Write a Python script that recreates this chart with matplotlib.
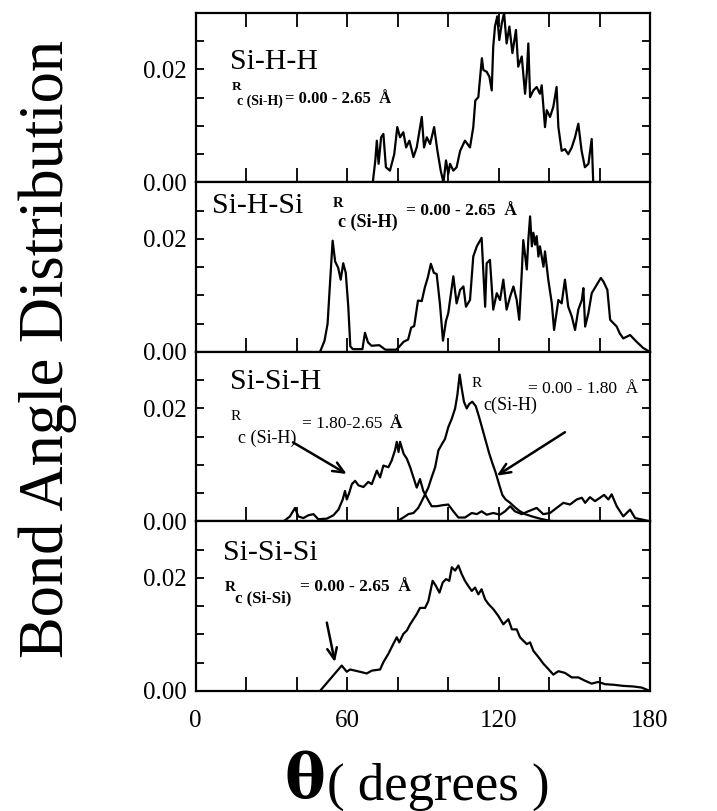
import matplotlib
matplotlib.use("Agg")
import matplotlib.pyplot as plt

plt.rcParams['font.family'] = ['Liberation Serif', 'DejaVu Serif']

# Si-H-H, Rc(Si-H) = 0.00 - 2.65 A
shh_x = [70.2, 71.2, 71.8, 72.5, 73.5, 74.4, 75.4, 77.0, 78.7, 79.9, 81.0, 82.3, 83.4, 84.7,
         86.3, 87.6, 89.6, 90.5, 91.6, 92.9, 94.5, 95.8, 97.1, 98.2, 99.2, 100.1, 100.8, 102.1,
         103.4, 104.8, 106.7, 108.7, 110.0, 110.8, 112.0, 113.4, 114.0, 115.3, 116.4, 117.3,
         117.9, 118.6, 119.5, 120.3, 121.3, 122.2, 123.2, 124.3, 125.5, 126.9, 127.8, 129.2,
         130.5, 131.2, 131.8, 132.5, 133.8, 135.1, 136.4, 137.1, 138.4, 139.1, 140.4, 141.7,
         143.0, 143.7, 145.0, 146.3, 147.6, 149.0, 150.3, 151.6, 152.9, 154.2, 155.6, 156.9, 157.5]
shh_y = [0.0, 0.0039, 0.0074, 0.0033, 0.0080, 0.0086, 0.0027, 0.0021, 0.0050, 0.0098, 0.0080,
         0.0089, 0.0062, 0.0074, 0.0045, 0.0062, 0.0116, 0.0062, 0.0080, 0.0068, 0.0098, 0.0056,
         0.0021, 0.0, 0.0039, 0.0015, 0.0033, 0.0021, 0.0027, 0.0056, 0.0074, 0.0062, 0.0098,
         0.0145, 0.0151, 0.0220, 0.0199, 0.0196, 0.0187, 0.0163, 0.0240, 0.0276, 0.0294, 0.0252,
         0.0282, 0.0300, 0.0246, 0.0276, 0.0229, 0.0270, 0.0205, 0.0223, 0.0157, 0.0193, 0.0246,
         0.0151, 0.0163, 0.0169, 0.0157, 0.0172, 0.0098, 0.0128, 0.0116, 0.0134, 0.0169, 0.0098,
         0.0056, 0.0059, 0.0050, 0.0062, 0.0080, 0.0104, 0.0056, 0.0027, 0.0033, 0.0077, 0.0]

# Si-H-Si, Rc(Si-H) = 0.00 - 2.65 A
shs_x = [49.3, 51.1, 52.3, 53.1, 54.3, 55.3, 56.5, 57.5, 58.5, 59.5, 60.5, 61.3, 62.3, 66.1,
         67.1, 68.3, 69.7, 72.8, 75.2, 79.4, 80.6, 82.4, 84.2, 85.4, 86.6, 88.1, 89.6, 90.8,
         92.0, 93.2, 94.4, 95.5, 96.8, 98.0, 99.2, 100.1, 102.1, 103.4, 104.8, 106.1, 107.1,
         108.7, 110.0, 111.4, 113.3, 114.7, 115.3, 116.6, 117.9, 119.3, 120.6, 121.9, 123.2,
         124.6, 125.9, 127.2, 128.2, 129.2, 129.8, 131.2, 131.8, 132.5, 133.2, 133.8, 134.5,
         135.1, 135.8, 136.4, 137.8, 138.4, 139.7, 141.1, 142.0, 143.7, 145.0, 146.3, 147.6,
         149.0, 150.3, 151.6, 153.0, 153.6, 154.3, 155.6, 156.9, 158.9, 160.5, 161.5, 163.1,
         164.2, 165.5, 166.8, 168.0, 169.4, 172.1, 174.7, 177.3, 180.0]
shs_y = [0.0, 0.0020, 0.0050, 0.0110, 0.0197, 0.0160, 0.0149, 0.0128, 0.0157, 0.0140, 0.0080,
         0.0010, 0.0005, 0.0005, 0.0034, 0.0017, 0.0011, 0.0012, 0.0004, 0.0004, 0.0009, 0.0018,
         0.0022, 0.0043, 0.0046, 0.0091, 0.0090, 0.0114, 0.0132, 0.0156, 0.0140, 0.0138, 0.0085,
         0.0020, 0.0055, 0.0069, 0.0134, 0.0086, 0.0110, 0.0116, 0.0080, 0.0092, 0.0169, 0.0187,
         0.0202, 0.0080, 0.0157, 0.0163, 0.0075, 0.0104, 0.0092, 0.0128, 0.0075, 0.0098, 0.0116,
         0.0092, 0.0057, 0.0140, 0.0198, 0.0146, 0.0198, 0.0240, 0.0187, 0.0211, 0.0190, 0.0205,
         0.0169, 0.0187, 0.0151, 0.0178, 0.0128, 0.0086, 0.0039, 0.0092, 0.0086, 0.0128, 0.0080,
         0.0063, 0.0039, 0.0075, 0.0092, 0.0113, 0.0045, 0.0069, 0.0104, 0.0119, 0.0131, 0.0125,
         0.0110, 0.0057, 0.0051, 0.0045, 0.0033, 0.0024, 0.0030, 0.0018, 0.0007, 0.0]

# Si-Si-H, Rc(Si-H) = 1.80 - 2.65 A
ssh_far_x = [34.8, 37.4, 39.4, 40.7, 42.7, 44.7, 46.7, 48.6, 52.0, 54.6, 56.6, 58.3, 59.2, 59.9,
             60.9, 61.9, 63.2, 64.5, 66.5, 68.4, 69.8, 71.8, 73.1, 74.4, 76.4, 77.7, 79.0, 79.7,
             80.4, 81.0, 82.4, 83.7, 85.0, 86.3, 87.6, 88.9, 90.2, 91.6, 93.5, 95.5, 98.1, 100.1,
             102.1, 104.1, 106.7, 109.4, 111.4, 113.3, 115.3, 117.9, 120.6, 122.6, 124.6, 126.5,
             129.2, 131.8, 135.1, 137.7, 140.4, 143.0, 145.7, 148.3, 151.0, 153.0, 154.3, 156.2,
             158.2, 160.2, 161.8, 163.5, 164.8, 166.8, 169.4, 172.1, 174.1, 177.3, 180.0]
ssh_far_y = [0.0, 0.0009, 0.0024, 0.0009, 0.0006, 0.0011, 0.0013, 0.0004, 0.0005, 0.0011, 0.0021,
             0.0039, 0.0054, 0.0039, 0.0051, 0.0066, 0.0072, 0.0064, 0.0061, 0.0070, 0.0066,
             0.0090, 0.0078, 0.0099, 0.0096, 0.0108, 0.0126, 0.0141, 0.0123, 0.0141, 0.0120,
             0.0111, 0.0096, 0.0078, 0.0060, 0.0075, 0.0054, 0.0042, 0.0027, 0.0027, 0.0029,
             0.0030, 0.0018, 0.0007, 0.0007, 0.0015, 0.0013, 0.0018, 0.0012, 0.0015, 0.0012,
             0.0018, 0.0027, 0.0018, 0.0013, 0.0018, 0.0024, 0.0013, 0.0015, 0.0024, 0.0033,
             0.0030, 0.0039, 0.0042, 0.0033, 0.0043, 0.0036, 0.0042, 0.0047, 0.0039, 0.0048,
             0.0027, 0.0009, 0.0021, 0.0006, 0.0003, 0.0]

# Si-Si-H, Rc(Si-H) = 0.00 - 1.80 A
ssh_near_x = [79.7, 82.3, 84.3, 86.3, 88.2, 89.6, 90.9, 92.2, 93.5, 94.9, 96.2, 97.6, 98.8, 100.1,
              101.5, 102.8, 103.7, 104.6, 105.4, 106.3, 107.4, 108.4, 109.6, 111.0, 112.3, 113.6,
              114.9, 116.2, 117.5, 118.9, 120.2, 121.5, 122.8, 124.6, 126.5, 128.5, 130.5, 133.2,
              136.4, 140.4, 144.4]
ssh_near_y = [0.0, 0.0007, 0.0013, 0.0015, 0.0024, 0.0036, 0.0048, 0.0060, 0.0078, 0.0096, 0.0126,
              0.0137, 0.0146, 0.0167, 0.0182, 0.0200, 0.0224, 0.0260, 0.0236, 0.0212, 0.0200,
              0.0208, 0.0212, 0.0204, 0.0185, 0.0164, 0.0143, 0.0122, 0.0104, 0.0086, 0.0066,
              0.0047, 0.0039, 0.0033, 0.0025, 0.0018, 0.0013, 0.0009, 0.0005, 0.0001, 0.0]

# Si-Si-Si, Rc(Si-Si) = 0.00 - 2.65 A
sss_x = [49.3, 57.9, 59.9, 61.2, 63.2, 65.1, 67.8, 69.8, 73.1, 74.4, 76.4, 78.3, 79.7, 80.7, 82.3,
         83.7, 85.0, 86.3, 87.6, 88.9, 90.9, 92.2, 93.9, 95.2, 96.6, 97.9, 99.2, 100.5, 101.5,
         102.8, 104.1, 105.4, 106.7, 108.0, 109.4, 110.7, 112.0, 113.3, 114.7, 116.0, 117.9,
         119.9, 121.9, 123.9, 125.3, 127.2, 128.5, 129.8, 131.2, 132.5, 133.8, 135.8, 137.8,
         139.7, 141.7, 143.7, 146.3, 149.0, 151.6, 154.3, 156.9, 159.5, 162.2, 165.5, 169.4,
         173.3, 176.7, 180.0]
sss_y = [0.0, 0.0045, 0.0034, 0.0038, 0.0036, 0.0034, 0.0031, 0.0036, 0.0038, 0.0051, 0.0066,
         0.0083, 0.0095, 0.0086, 0.0101, 0.0107, 0.0118, 0.0127, 0.0136, 0.0147, 0.0147, 0.0159,
         0.0195, 0.0186, 0.0174, 0.0192, 0.0198, 0.0195, 0.0219, 0.0213, 0.0222, 0.0207, 0.0195,
         0.0186, 0.0177, 0.0183, 0.0171, 0.0180, 0.0162, 0.0154, 0.0145, 0.0133, 0.0118, 0.0127,
         0.0109, 0.0109, 0.0095, 0.0089, 0.0083, 0.0086, 0.0071, 0.0060, 0.0048, 0.0039, 0.0029,
         0.0035, 0.0032, 0.0024, 0.0024, 0.0018, 0.0013, 0.0016, 0.0012, 0.0011, 0.0009, 0.0008,
         0.0006, 0.0]

xticks = [0, 20, 40, 60, 80, 100, 120, 140, 160, 180]
xticklabels = ['0', '', '', '60', '', '', '120', '', '', '180']
yticks = [0.0, 0.005, 0.01, 0.015, 0.02, 0.025]
yticklabels = ['0.00', '', '', '', '0.02', '']

fig = plt.figure(figsize=(7.17, 8.11), dpi=100)
axes = fig.subplots(4, 1, sharex=True)
fig.subplots_adjust(left=0.2727, right=0.9066, top=0.984, bottom=0.148, hspace=0)

axes[0].plot(shh_x, shh_y, 'k', lw=1.6)
axes[1].plot(shs_x, shs_y, 'k', lw=1.6)
axes[2].plot(ssh_far_x, ssh_far_y, 'k', lw=1.6)
axes[2].plot(ssh_near_x, ssh_near_y, 'k', lw=1.6)
axes[3].plot(sss_x, sss_y, 'k', lw=1.6)

for i, ax in enumerate(axes):
    ax.set_xlim(0, 180)
    ax.set_ylim(0, 0.03)
    ax.set_xticks(xticks)
    ax.set_yticks(yticks)
    ax.set_yticklabels(yticklabels)
    for s in ax.spines.values():
        s.set_linewidth(1.6)
    ax.tick_params(axis='x', direction='in', length=10, width=1.3, top=(i == 0),
                   labelsize=18, pad=14)
    ax.tick_params(axis='y', direction='in', length=6, width=1.3, right=True,
                   labelsize=18, pad=6)
axes[3].set_xticklabels(xticklabels)

big = 21.5
axes[0].text(13.7, 0.0214, 'Si-H-H', fontsize=big, va='center')
axes[0].text(14.5, 0.0169, 'R', fontsize=9.5, weight='bold', va='center')
axes[0].text(16.4, 0.0143, 'c (Si-H)', fontsize=10, weight='bold', va='center')
axes[0].text(35.6, 0.0147, '= 0.00 - 2.65  Å', fontsize=12, weight='bold', va='center')

axes[1].text(6.5, 0.0259, 'Si-H-Si', fontsize=big, va='center')
axes[1].text(54.5, 0.0263, 'R', fontsize=10.5, weight='bold', va='center')
axes[1].text(56.4, 0.0229, 'c (Si-H)', fontsize=13, weight='bold', va='center')
axes[1].text(83.2, 0.0249, '= 0.00 - 2.65  Å', fontsize=12.5, weight='bold', va='center')

axes[2].text(13.7, 0.0247, 'Si-Si-H', fontsize=big, va='center')
axes[2].text(13.7, 0.0186, 'R', fontsize=11, va='center')
axes[2].text(16.8, 0.0148, 'c (Si-H)', fontsize=13, va='center')
axes[2].text(42.2, 0.0172, '= 1.80-2.65', fontsize=12.5, va='center')
axes[2].text(77.0, 0.0172, 'Å', fontsize=12.5, weight='bold', va='center')
axes[2].text(109.4, 0.0245, 'R', fontsize=11, va='center')
axes[2].text(113.9, 0.0206, 'c(Si-H)', fontsize=13, va='center')
axes[2].text(131.7, 0.0234, '= 0.00 - 1.80  Å', fontsize=12.5, va='center')

axes[3].text(10.9, 0.0244, 'Si-Si-Si', fontsize=big, va='center')
axes[3].text(11.7, 0.0184, 'R', fontsize=11, weight='bold', va='center')
axes[3].text(15.6, 0.0163, 'c (Si-Si)', fontsize=12, weight='bold', va='center')
axes[3].text(41.4, 0.0184, '= 0.00 - 2.65  Å', fontsize=12.5, weight='bold', va='center')

arrow = dict(arrowstyle='->,head_length=0.8,head_width=0.35', lw=1.8, color='black',
             shrinkA=0, shrinkB=0)
axes[2].annotate('', xy=(59.9, 0.0084), xytext=(38.6, 0.0140), arrowprops=arrow)
axes[2].annotate('', xy=(119.3, 0.0081), xytext=(146.3, 0.0158), arrowprops=arrow)
axes[3].annotate('', xy=(55.2, 0.0051), xytext=(52.0, 0.0121), arrowprops=arrow)

fig.text(0.066, 0.57, 'Bond Angle Distribution', fontsize=45, rotation=90,
         ha='center', va='center')
fig.text(0.425, 0.0165, 'θ', fontsize=44, weight='bold', family=['DejaVu Serif'],
         ha='center', va='baseline')
fig.text(0.456, 0.0145, '( degrees )', fontsize=38, ha='left', va='baseline')

fig.savefig('out.png', dpi=100)
